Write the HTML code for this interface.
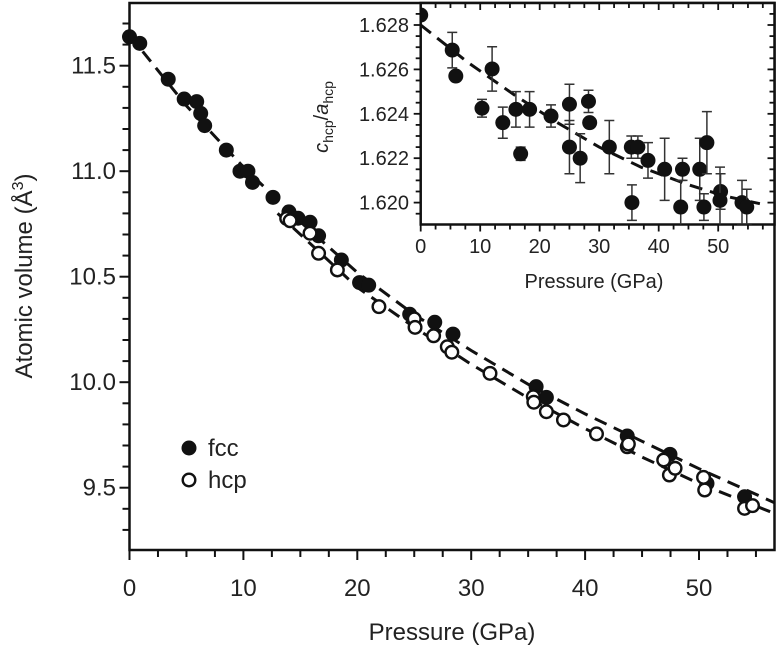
<!DOCTYPE html>
<html><head><meta charset="utf-8"><style>
html,body{margin:0;padding:0;background:#fff;}
svg{display:block;font-family:"Liberation Sans",Arial,sans-serif;}
</style></head><body>
<svg id="chart" width="780" height="646" viewBox="0 0 780 646" xmlns="http://www.w3.org/2000/svg"></svg>
<script>
// ---- main chart data ----
const fccP = [0,0.9,3.4,4.8,5.9,6.25,6.6,8.5,9.7,10.4,10.8,12.6,14.0,14.8,15.85,16.6,18.6,20.2,21.0,24.6,26.8,28.4,35.7,36.6,43.7,47.45,50.7,54.0];
const fccV = [11.637,11.606,11.436,11.342,11.33,11.274,11.216,11.10,11.0,11.0,10.947,10.876,10.807,10.777,10.758,10.694,10.579,10.472,10.46,10.322,10.284,10.228,9.979,9.928,9.745,9.658,9.52,9.457];
const hcpP = [13.8,14.1,15.85,16.6,18.25,21.9,25.0,25.07,26.7,27.9,28.3,31.65,35.45,35.5,36.6,38.1,41.0,43.7,43.8,46.9,47.4,47.9,50.4,50.5,54.0,54.7];
const hcpV = [10.776,10.765,10.706,10.611,10.532,10.358,10.30,10.26,10.22,10.168,10.142,10.042,9.931,9.905,9.86,9.821,9.755,9.694,9.707,9.631,9.56,9.592,9.549,9.489,9.402,9.415];
const fccFitP = [0,5,10,15,20,25,30,35,40,45,50,57];
const fccFitV = [11.645,11.31,11.02,10.76,10.52,10.32,10.15,9.99,9.85,9.72,9.59,9.42];
const hcpFitP = [13,15,20,25,30,35,40,45,50,57];
const hcpFitV = [10.80,10.70,10.45,10.26,10.085,9.925,9.78,9.645,9.52,9.37];
const xTicks = [0,10,20,30,40,50];
const yTicks = [9.5,10.0,10.5,11.0,11.5];
const yTickLabels = ["9.5","10.0","10.5","11.0","11.5"];
// ---- inset data ----
const insP = [0,5.3,5.9,10.3,12,13.8,16,16.8,18.3,21.9,25,25,26.8,28.2,28.4,31.7,35.4,36.5,35.5,38.2,41,44,43.7,46.9,47.6,48.1,50.4,50.3,54,54.8];
const insV = [1.62845,1.62687,1.6257,1.62425,1.62602,1.6236,1.6242,1.6222,1.6242,1.6239,1.62443,1.6225,1.6220,1.62456,1.6236,1.6225,1.6225,1.6225,1.6200,1.6219,1.6215,1.6215,1.6198,1.6215,1.6198,1.6227,1.6205,1.6201,1.6200,1.6198];
const insErr = [0,0.0008,0,0.0004,0.001,0.0007,0.0008,0.0003,0.0008,0.0005,0.0009,0.0012,0.0011,0.0005,0,0.0012,0.0005,0.0005,0.0008,0.0008,0.0014,0.0005,0.0012,0.0014,0.0006,0.0014,0.0008,0.0015,0.001,0.0008];
const insFitP = [0,8,16,23,30,37,45,51,57];
const insFitV = [1.6280,1.6263,1.6248,1.6236,1.6225,1.6216,1.6208,1.6203,1.61995];
const insXTicks = [0,10,20,30,40,50];
const insYTicks = [1.620,1.622,1.624,1.626,1.628];
const insYTickLabels = ["1.620","1.622","1.624","1.626","1.628"];

const NS="http://www.w3.org/2000/svg";
const svg=document.getElementById('chart');
function mk(tag,attrs,parent){const e=document.createElementNS(NS,tag);for(const k in attrs)e.setAttribute(k,attrs[k]);(parent||svg).appendChild(e);return e;}

// main axes
const X0=129.5, PXG=11.39, YTOP=3, YBOT=550, XR=774.5;
const sx=p=>X0+p*PXG;
const sy=v=>65.7+(11.5-v)*211;
const main=mk('g',{});



// fit lines
function poly(P,V,fx,fy,name,parent){
  const pts=P.map((p,i)=>fx(p).toFixed(1)+','+fy(V[i]).toFixed(1)).join(' ');
  const l=mk('polyline',{points:pts,fill:'none',stroke:'#111','stroke-width':3,'stroke-dasharray':'13,8'},parent);
  
  
}
const clipM=mk('clipPath',{id:'clipMain'});mk('rect',{x:X0,y:YTOP,width:XR-X0,height:YBOT-YTOP},clipM);
const lines=mk('g',{'clip-path':'url(#clipMain)'},main);
poly(fccFitP,fccFitV,sx,sy,'fcc-fit-line',lines);
poly(hcpFitP,hcpFitV,sx,sy,'hcp-fit-line',lines);

// points
fccP.forEach((p,i)=>{const c=mk('circle',{cx:sx(p),cy:sy(fccV[i]),r:7.5,fill:'#111'},main);

});
hcpP.forEach((p,i)=>{const c=mk('circle',{cx:sx(p),cy:sy(hcpV[i]),r:6.3,fill:'#fff',stroke:'#111','stroke-width':2.4},main);

});

// frame
mk('rect',{x:X0,y:YTOP,width:XR-X0,height:YBOT-YTOP,fill:'none',stroke:'#111','stroke-width':2.5},main);
// x ticks
for(let p=0;p<=57;p+=2.5){const major=(p%10===0);mk('line',{x1:sx(p),x2:sx(p),y1:YBOT,y2:YBOT+(major?10:7),stroke:'#111','stroke-width':2},main);}
xTicks.forEach(t=>{const e=mk('text',{x:sx(t),y:596,'text-anchor':'middle','font-size':24,fill:'#222'},main);e.textContent=t;

});
// y ticks
for(let k=93;k<=117;k++){const v=k/10;const major=(k%5===0);mk('line',{x1:X0,x2:X0-(major?10:7),y1:sy(v),y2:sy(v),stroke:'#111','stroke-width':2},main);}
yTicks.forEach((t,i)=>{const e=mk('text',{x:116,y:sy(t)+8,'text-anchor':'end','font-size':24,fill:'#222'},main);e.textContent=yTickLabels[i];

});
let t=mk('text',{x:452,y:640,'text-anchor':'middle','font-size':24,fill:'#222'},main);t.textContent='Pressure (GPa)';


t=mk('text',{x:0,y:0,'text-anchor':'middle','font-size':24,fill:'#222',transform:'translate(32,276) rotate(-90)'},main);
t.innerHTML='Atomic volume (Å<tspan dy="-9" font-size="16">3</tspan><tspan dy="9">)</tspan>';



// legend
const leg=mk('g',{},main);


mk('circle',{cx:189,cy:448,r:7.5,fill:'#111'},leg);
t=mk('text',{x:208,y:456,'font-size':24,fill:'#222'},leg);t.textContent='fcc';


mk('circle',{cx:189,cy:480,r:6.3,fill:'#fff',stroke:'#111','stroke-width':2.4},leg);
t=mk('text',{x:208,y:488,'font-size':24,fill:'#222'},leg);t.textContent='hcp';



// ---- inset ----
const IX0=420.7, IPX=5.95, IYB=224.5, IYT=3;
const ix=p=>IX0+p*IPX;
const iy=v=>25+(1.628-v)*22200;
const ins=mk('g',{});


mk('rect',{x:IX0,y:IYT,width:XR-IX0,height:IYB-IYT,fill:'#fff',stroke:'#111','stroke-width':2.5},ins);
const clipI=mk('clipPath',{id:'clipIns'});mk('rect',{x:IX0,y:IYT,width:XR-IX0,height:IYB-IYT},clipI);
const il=mk('g',{'clip-path':'url(#clipIns)'},ins);
poly(insFitP,insFitV,ix,iy,'inset-fit-line',il);
insP.forEach((p,i)=>{
  if(insErr[i]>0){
    const y1=iy(insV[i]+insErr[i]),y2=iy(insV[i]-insErr[i]),x=ix(p);
    const g=mk('path',{d:`M${x},${y1}V${y2}M${x-5},${y1}H${x+5}M${x-5},${y2}H${x+5}`,stroke:'#333','stroke-width':1.5,fill:'none'},il);
    
    
  }
  const c=mk('circle',{cx:ix(p),cy:iy(insV[i]),r:7.5,fill:'#111'},il);
  
  
});
for(let p=0;p<=59;p+=2.5){const major=(p%10===0);
  mk('line',{x1:ix(p),x2:ix(p),y1:IYB,y2:IYB+(major?7:5),stroke:'#111','stroke-width':1.8},ins);
  mk('line',{x1:ix(p),x2:ix(p),y1:IYT,y2:IYT+(major?7:5),stroke:'#111','stroke-width':1.8},ins);}
for(let k=0;k<=20;k++){const v=1.619+k*0.0005;if(iy(v)<IYT||iy(v)>IYB)continue;const major=(Math.round(v*10000)%20===0);
  mk('line',{x1:IX0,x2:IX0-(major?7:5),y1:iy(v),y2:iy(v),stroke:'#111','stroke-width':1.8},ins);
  mk('line',{x1:XR,x2:XR-(major?7:5),y1:iy(v),y2:iy(v),stroke:'#111','stroke-width':1.8},ins);}
insXTicks.forEach(tk=>{const e=mk('text',{x:ix(tk),y:253,'text-anchor':'middle','font-size':20,fill:'#222'},ins);e.textContent=tk;

});
insYTicks.forEach((tk,i)=>{const e=mk('text',{x:409,y:iy(tk)+7,'text-anchor':'end','font-size':20,fill:'#222'},ins);e.textContent=insYTickLabels[i];

});
t=mk('text',{x:594,y:288,'text-anchor':'middle','font-size':20,fill:'#222'},ins);t.textContent='Pressure (GPa)';


t=mk('text',{x:0,y:0,'text-anchor':'middle','font-size':20,fill:'#222',transform:'translate(328,117) rotate(-90)'},ins);
t.innerHTML='<tspan font-style="italic">c</tspan><tspan dy="5" font-size="14">hcp</tspan><tspan dy="-5">/</tspan><tspan font-style="italic">a</tspan><tspan dy="5" font-size="14">hcp</tspan>';


</script>
</body></html>
